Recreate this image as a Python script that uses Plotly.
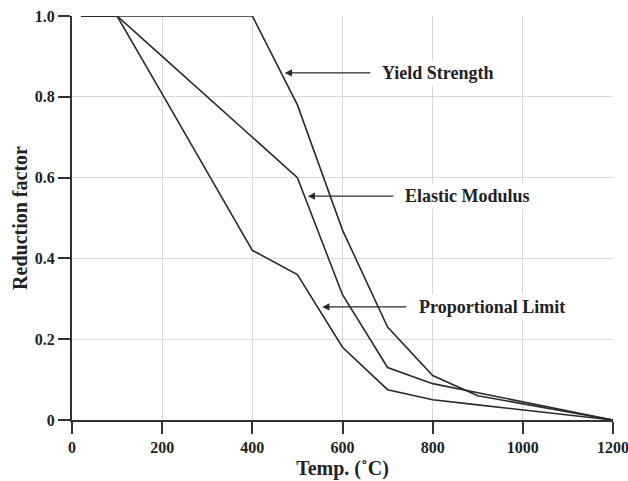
import plotly.graph_objects as go

temps = [20, 100, 200, 300, 400, 500, 600, 700, 800, 900, 1000, 1100, 1200]
yield_strength = [1.0, 1.0, 1.0, 1.0, 1.0, 0.78, 0.47, 0.23, 0.11, 0.06, 0.04, 0.02, 0.0]
elastic_modulus = [1.0, 1.0, 0.9, 0.8, 0.7, 0.6, 0.31, 0.13, 0.09, 0.0675, 0.045, 0.0225, 0.0]
proportional_limit = [1.0, 1.0, 0.807, 0.613, 0.42, 0.36, 0.18, 0.075, 0.05, 0.0375, 0.025, 0.0125, 0.0]

labels = ["Yield Strength", "Elastic Modulus", "Proportional Limit"]
arrow_heads = [(472, 0.859), (523, 0.554), (555, 0.28)]
arrow_tails = [(665, 0.859), (716, 0.554), (745, 0.28)]
text_x = [680, 731, 764]

x_ticks = [0, 200, 400, 600, 800, 1000, 1200]
y_ticks = [0, 0.2, 0.4, 0.6, 0.8, 1.0]
y_ticktext = ["0", "0.2", "0.4", "0.6", "0.8", "1.0"]

font_family = "Liberation Serif"
line_color = "#2a2a2a"

fig = go.Figure()
for name, ys in zip(labels, [yield_strength, elastic_modulus, proportional_limit]):
    fig.add_trace(go.Scatter(x=temps, y=ys, mode="lines", name=name,
                             line=dict(color=line_color, width=1.6)))

for lab, (hx, hy), (tx, ty), lx in zip(labels, arrow_heads, arrow_tails, text_x):
    fig.add_annotation(x=hx, y=hy, ax=tx, ay=ty, axref="x", ayref="y",
                       xref="x", yref="y", text="", showarrow=True,
                       arrowhead=2, arrowsize=1.2, arrowwidth=1.2,
                       arrowcolor=line_color)
    fig.add_annotation(x=lx, y=ty, xref="x", yref="y", text="<b>" + lab + "</b>",
                       showarrow=False, xanchor="left", yanchor="middle",
                       bgcolor="white", borderpad=2,
                       font=dict(family=font_family, size=18, color="#222"))

fig.update_layout(
    width=628, height=481,
    margin=dict(l=72, r=15, t=16, b=61),
    plot_bgcolor="white", paper_bgcolor="white",
    showlegend=False,
    font=dict(family=font_family, color="#222"),
    xaxis=dict(range=[0, 1200], tickvals=x_ticks,
               ticktext=["<b>%d</b>" % v for v in x_ticks],
               showgrid=True, gridcolor="#d9d9d9", gridwidth=1,
               showline=True, linecolor="#333", linewidth=2,
               ticks="outside", ticklen=12, tickwidth=2, tickcolor="#333",
               tickfont=dict(family=font_family, size=16, color="#222"),
               ticklabeloverflow="allow",
               zeroline=False, automargin=False,
               title=dict(text="<b>Temp. (˚C)</b>", standoff=6,
                          font=dict(family=font_family, size=20, color="#222"))),
    yaxis=dict(range=[0, 1.0], tickvals=y_ticks,
               ticktext=["<b>%s</b>" % t for t in y_ticktext],
               showgrid=True, gridcolor="#d9d9d9", gridwidth=1,
               showline=True, linecolor="#333", linewidth=2,
               ticks="outside", ticklen=12, tickwidth=2, tickcolor="#333",
               tickfont=dict(family=font_family, size=16, color="#222"),
               ticklabeloverflow="allow",
               zeroline=False, automargin=False,
               title=dict(text="<b>Reduction factor</b>", standoff=2,
                          font=dict(family=font_family, size=20, color="#222"))),
)

fig.write_html("out.html")
